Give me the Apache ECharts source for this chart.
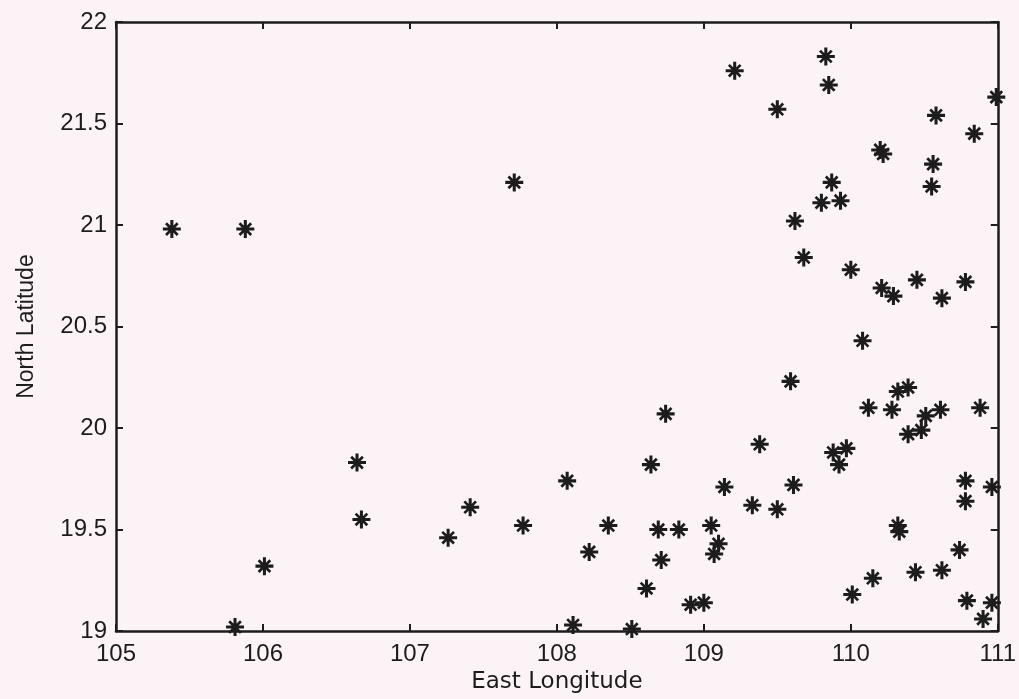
<!DOCTYPE html>
<html>
<head>
<meta charset="utf-8">
<script src="https://cdn.jsdelivr.net/npm/echarts@6/dist/echarts.min.js"></script>
<style>
html,body{margin:0;padding:0;background:#fcf3f6;}
#chart{width:1019px;height:699px;}
</style>
</head>
<body>
<div id="chart"></div>
<script>
// Tick labels
var xTickLabels = ['105','106','107','108','109','110','111'];
var yTickLabels = ['19','19.5','20','20.5','21','21.5','22'];

// Point positions (East Longitude, North Latitude)
var longitude = [
  105.38, 105.88, 106.64, 106.67, 106.01, 105.81, 108.07, 107.41, 107.26, 107.77,
  108.35, 108.22, 108.11, 107.71, 109.21, 109.83, 109.85, 109.50, 110.99, 110.58,
  110.84, 110.20, 110.22, 110.56, 110.55, 109.87, 109.80, 109.93, 109.62, 109.68,
  110.00, 110.21, 110.29, 110.45, 110.62, 110.78, 110.08, 109.59, 110.32, 110.39,
  110.12, 110.28, 110.51, 110.61, 110.88, 110.39, 110.48, 108.74, 109.38, 109.88,
  109.97, 109.92, 108.64, 109.14, 109.61, 110.78, 110.96, 110.78, 109.33, 109.50,
  108.69, 108.83, 109.05, 109.10, 109.07, 110.32, 110.33, 108.71, 110.74, 110.44,
  110.62, 110.15, 110.01, 108.61, 108.91, 109.00, 110.79, 110.96, 110.90, 108.51
];
var latitude = [
  20.98, 20.98, 19.83, 19.55, 19.32, 19.02, 19.74, 19.61, 19.46, 19.52,
  19.52, 19.39, 19.03, 21.21, 21.76, 21.83, 21.69, 21.57, 21.63, 21.54,
  21.45, 21.37, 21.35, 21.30, 21.19, 21.21, 21.11, 21.12, 21.02, 20.84,
  20.78, 20.69, 20.65, 20.73, 20.64, 20.72, 20.43, 20.23, 20.18, 20.20,
  20.10, 20.09, 20.06, 20.09, 20.10, 19.97, 19.99, 20.07, 19.92, 19.88,
  19.90, 19.82, 19.82, 19.71, 19.72, 19.74, 19.71, 19.64, 19.62, 19.60,
  19.50, 19.50, 19.52, 19.43, 19.38, 19.52, 19.49, 19.35, 19.40, 19.29,
  19.30, 19.26, 19.18, 19.21, 19.13, 19.14, 19.15, 19.14, 19.06, 19.01
];

var points = longitude.map(function (x, i) { return [x, latitude[i]]; });

var xMin = Number(xTickLabels[0]), xMax = Number(xTickLabels[xTickLabels.length - 1]);
var yMin = Number(yTickLabels[0]), yMax = Number(yTickLabels[yTickLabels.length - 1]);

var ink = '#1c1c1c';
var sans = '"Liberation Sans", Arial, sans-serif';
var wide = '"DejaVu Sans", sans-serif';

var asterisk = 'path://M8.3 0 L11.7 0 L11.7 20 L8.3 20 Z M0 8.3 L20 8.3 L20 11.7 L0 11.7 Z ' +
  'M2.44 4.56 L4.56 2.44 L17.56 15.44 L15.44 17.56 Z ' +
  'M15.44 2.44 L17.56 4.56 L4.56 17.56 L2.44 15.44 Z';

function axisBase(pos, showLabel, isX) {
  return {
    type: 'value',
    position: pos,
    min: isX ? xMin : yMin,
    max: isX ? xMax : yMax,
    interval: isX ? 1 : 0.5,
    splitLine: { show: false },
    axisLine: { show: true, onZero: false, lineStyle: { color: ink, width: 2.5 } },
    axisTick: { show: true, inside: true, length: 7, lineStyle: { color: ink, width: 2 } },
    axisLabel: {
      show: showLabel,
      color: ink,
      fontFamily: sans,
      fontSize: 24,
      margin: isX ? 11 : 9,
      formatter: function (v) {
        var arr = isX ? xTickLabels : yTickLabels;
        for (var k = 0; k < arr.length; k++) { if (Math.abs(Number(arr[k]) - v) < 1e-6) return arr[k]; }
        return '';
      }
    }
  };
}

var xBottom = axisBase('bottom', true, true);
xBottom.name = 'East Longitude';
xBottom.nameLocation = 'middle';
xBottom.nameGap = 38;
xBottom.nameTextStyle = { color: ink, fontFamily: wide, fontSize: 23 };
var xTop = axisBase('top', false, true);

var yLeft = axisBase('left', true, false);
yLeft.name = 'North Latitude';
yLeft.nameLocation = 'middle';
yLeft.nameGap = 78;
yLeft.nameTextStyle = { color: ink, fontFamily: sans, fontSize: 23 };
var yRight = axisBase('right', false, false);

var chart = echarts.init(document.getElementById('chart'), null, { renderer: 'canvas' });
chart.setOption({
  backgroundColor: '#fcf3f6',
  animation: false,
  grid: { left: 116, right: 20, top: 22, bottom: 63, containLabel: false },
  xAxis: [xBottom, xTop],
  yAxis: [yLeft, yRight],
  series: [{
    type: 'scatter',
    xAxisIndex: 0,
    yAxisIndex: 0,
    data: points,
    symbol: asterisk,
    symbolSize: 18,
    clip: false,
    itemStyle: { color: ink, opacity: 1 }
  }]
});
</script>
</body>
</html>
